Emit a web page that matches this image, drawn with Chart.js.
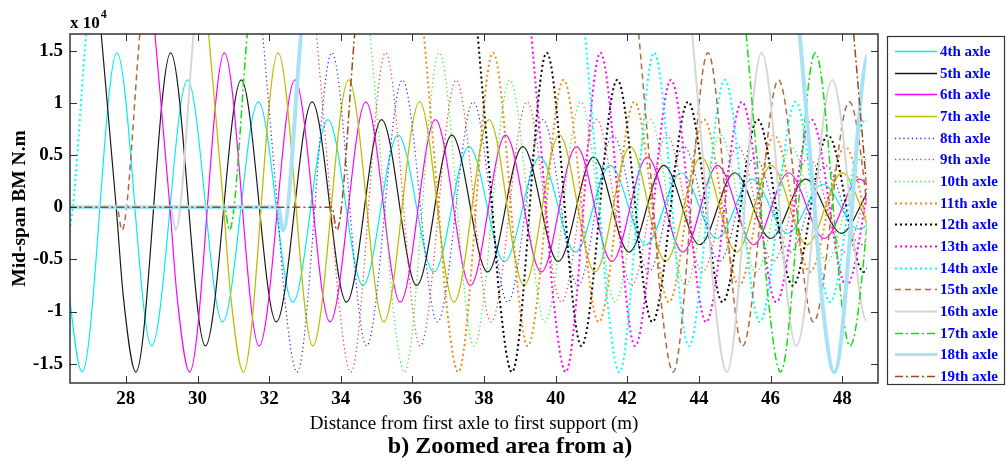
<!DOCTYPE html>
<html>
<head>
<meta charset="utf-8">
<script src="https://cdn.jsdelivr.net/npm/chart.js@4.4.0/dist/chart.umd.min.js"></script>
<style>
html,body{margin:0;padding:0;background:#fff;}
#wrap{position:relative;width:1007px;height:465px;}
canvas{display:block;}
</style>
</head>
<body>
<div id="wrap"><canvas id="c" width="1007" height="465"></canvas></div>
<script>
// ---------- data ----------
const axleNames = ['4th axle','5th axle','6th axle','7th axle','8th axle','9th axle','10th axle','11th axle',
                   '12th axle','13th axle','14th axle','15th axle','16th axle','17th axle','18th axle','19th axle'];
// each axle's curve is the 4th-axle curve displaced along the x axis by this distance (m)
const axleShift = [0, 1.5, 3, 4.5, 6, 7.5, 9, 10.5, 12, 13.5, 15, 16.5, 18, 19.5, 21, 22.5];
// response of the 4th axle: distance (m) and mid-span BM (x 10^4 N.m)
const waveX  = [3, 11.25, 11.39, 11.9, 12.6, 18.8, 25.5, 26.23, 26.43, 26.78, 27.75, 28.72, 29.72, 30.7, 31.7,
                32.66, 33.64, 34.62, 35.6, 36.6, 37.58, 38.57, 39.56, 40.55, 41.52, 42.52, 43.5, 44.5, 45.48,
                46.48, 47.46, 48.46, 49.44];
const waveBM = [0, 0, -0.22, 1.7, 4.3, 27, 2.9, 0, -0.86, -1.58, 1.48, -1.33, 1.22, -1.10, 1.01,
                -0.91, 0.84, -0.75, 0.69, -0.62, 0.58, -0.52, 0.48, -0.43, 0.40, -0.36, 0.33, -0.30, 0.27,
                -0.25, 0.22, -0.21, 0.18];
const dataEnd = 48.68;               // last computed distance (m)
const xTicks = [28, 30, 32, 34, 36, 38, 40, 42, 44, 46, 48];
const yTicks = [-1.5, -1, -0.5, 0, 0.5, 1, 1.5];
const xRange = [26.44, 49.0];
const yRange = [-1.685, 1.66];

// ---------- styles ----------
const lineStyles = [
  {color:'#00eef0', width:1.2, dash:[]},
  {color:'#1a1a1a', width:1.2, dash:[]},
  {color:'#ff00ff', width:1.2, dash:[]},
  {color:'#c2bc00', width:1.3, dash:[]},
  {color:'#2222ff', width:1.2, dash:[1.2,3]},
  {color:'#ff2a2a', width:1.2, dash:[1.2,3]},
  {color:'#22ee22', width:1.2, dash:[1.2,3]},
  {color:'#ee8a1c', width:2,   dash:[2,3]},
  {color:'#000000', width:2,   dash:[2,3]},
  {color:'#ff00ff', width:2,   dash:[2,3]},
  {color:'#00ffff', width:2,   dash:[2,3]},
  {color:'#b4683c', width:1.5, dash:[6,4]},
  {color:'#d6d6d6', width:2,   dash:[]},
  {color:'#11dd11', width:1.5, dash:[8,3,2,3]},
  {color:'#a8e2f6', width:4,   dash:[]},
  {color:'#a0461e', width:1.5, dash:[8,3,2,3]}
];

const datasets = axleNames.map((name, k) => ({
  label: name,
  data: waveX.map((t, i) => ({x: t + axleShift[k], y: waveBM[i]})),
  borderColor: lineStyles[k].color,
  backgroundColor: lineStyles[k].color,
  borderWidth: lineStyles[k].width,
  borderDash: lineStyles[k].dash,
  pointRadius: 0,
  pointHoverRadius: 0,
  showLine: true,
  fill: false,
  cubicInterpolationMode: 'monotone',
  order: axleNames.length - k
}));

const serif = "'Liberation Serif','Times New Roman',serif";

// clip curves to the computed distance range
const dataClip = {
  id: 'dataClip',
  beforeDatasetsDraw(chart) {
    const {ctx, chartArea: a, scales: {x}} = chart;
    ctx.save();
    ctx.beginPath();
    ctx.rect(a.left, a.top, x.getPixelForValue(dataEnd) - a.left, a.bottom - a.top);
    ctx.clip();
  },
  afterDatasetsDraw(chart) { chart.ctx.restore(); }
};

// MATLAB-like frame, inner ticks, exponent, caption, legend
const decorations = {
  id: 'decorations',
  afterDraw(chart) {
    const {ctx, chartArea: a, scales: {x, y}} = chart;
    ctx.save();
    ctx.strokeStyle = '#333';
    ctx.lineWidth = 1;
    ctx.beginPath();
    xTicks.forEach(v => {
      const px = Math.round(x.getPixelForValue(v)) + 0.5;
      ctx.moveTo(px, a.bottom); ctx.lineTo(px, a.bottom - 7);
      ctx.moveTo(px, a.top); ctx.lineTo(px, a.top + 7);
    });
    yTicks.forEach(v => {
      const py = Math.round(y.getPixelForValue(v)) + 0.5;
      ctx.moveTo(a.left, py); ctx.lineTo(a.left + 7, py);
      ctx.moveTo(a.right, py); ctx.lineTo(a.right - 7, py);
    });
    ctx.stroke();
    ctx.lineWidth = 1.5;
    ctx.strokeRect(a.left, a.top, a.right - a.left, a.bottom - a.top);

    // exponent
    ctx.fillStyle = '#000';
    ctx.textBaseline = 'alphabetic';
    ctx.textAlign = 'left';
    ctx.font = 'bold 17px ' + serif;
    ctx.fillText('x 10', a.left, 28);
    const w = ctx.measureText('x 10').width;
    ctx.font = 'bold 12px ' + serif;
    ctx.fillText('4', a.left + w + 1, 18);

    // caption
    ctx.font = 'bold 24px ' + serif;
    ctx.textAlign = 'center';
    ctx.textBaseline = 'middle';
    ctx.fillText('b) Zoomed area from a)', 510, 447);

    // legend
    const box = {left: 887.5, top: 36.5, right: 1004.5, bottom: 384.5};
    ctx.lineWidth = 1.2;
    ctx.strokeStyle = '#333';
    ctx.strokeRect(box.left, box.top, box.right - box.left, box.bottom - box.top);
    ctx.font = 'bold 15px ' + serif;
    ctx.textAlign = 'left';
    ctx.textBaseline = 'middle';
    chart.data.datasets.forEach((ds, i) => {
      const yy = box.top + 14.5 + i * 21.67;
      ctx.save();
      ctx.strokeStyle = ds.borderColor;
      ctx.lineWidth = Math.max(1.4, Math.min(ds.borderWidth, 3));
      ctx.setLineDash(ds.borderDash);
      ctx.beginPath();
      ctx.moveTo(895, Math.round(yy) + 0.5);
      ctx.lineTo(937, Math.round(yy) + 0.5);
      ctx.stroke();
      ctx.restore();
      ctx.fillStyle = '#0000ff';
      ctx.fillText(ds.label, 940, yy + 1);
    });
    ctx.restore();
  }
};

new Chart(document.getElementById('c'), {
  type: 'scatter',
  data: {datasets},
  options: {
    responsive: false,
    animation: false,
    devicePixelRatio: 1,
    events: [],
    layout: {padding: {left: 0, right: 129, top: 34, bottom: 0}},
    plugins: {legend: {display: false}, title: {display: false}, tooltip: {enabled: false}},
    elements: {line: {borderCapStyle: 'butt', borderJoinStyle: 'round'}},
    scales: {
      x: {
        type: 'linear', position: 'bottom',
        min: xRange[0], max: xRange[1],
        afterBuildTicks: s => { s.ticks = xTicks.map(v => ({value: v})); },
        afterFit: s => { s.height = 82; },
        grid: {display: false, drawTicks: false},
        border: {display: false},
        ticks: {color: '#000', padding: 5, maxRotation: 0, autoSkip: false,
                font: {family: serif, size: 19, weight: 'bold'}, callback: v => String(v)},
        title: {display: true, text: 'Distance from first axle to first support (m)', color: '#000',
                font: {family: serif, size: 19, weight: 'normal'}, padding: {top: 0, bottom: 30}}
      },
      y: {
        type: 'linear', position: 'left',
        min: yRange[0], max: yRange[1],
        afterBuildTicks: s => { s.ticks = yTicks.map(v => ({value: v})); },
        afterFit: s => { s.width = 70; },
        grid: {display: false, drawTicks: false},
        border: {display: false},
        ticks: {color: '#000', padding: 7, autoSkip: false,
                font: {family: serif, size: 19, weight: 'bold'}, callback: v => String(v)},
        title: {display: true, text: 'Mid-span BM N.m', color: '#000',
                font: {family: serif, size: 19.5, weight: 'bold'}, padding: {top: 8.5, bottom: 0}}
      }
    }
  },
  plugins: [dataClip, decorations]
});
</script>
</body>
</html>
